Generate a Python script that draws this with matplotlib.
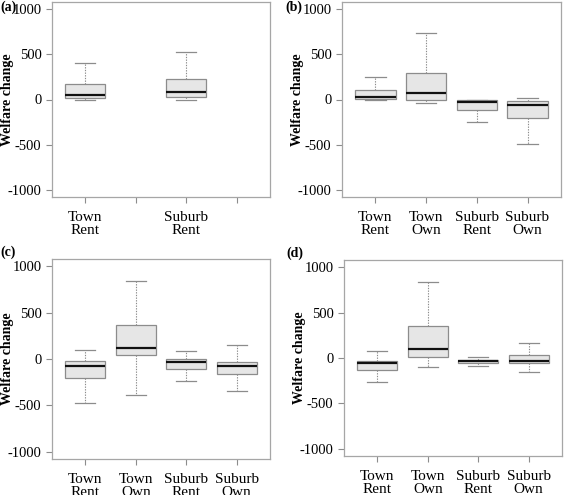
import matplotlib
matplotlib.use("Agg")
import matplotlib.pyplot as plt

plt.rcParams['font.family'] = ['Liberation Serif', 'DejaVu Serif']

categories = ["Town\nRent", "Town\nOwn", "Suburb\nRent", "Suburb\nOwn"]

# (a) only the rent groups are shown (positions 1 and 3)
a_pos = [1, 3]
a_lo = [0, 0]
a_q1 = [18, 26]
a_med = [55, 85]
a_q3 = [176, 224]
a_hi = [400, 522]

# (b)
b_lo = [0, -40, -250, -489]
b_q1 = [7, -4, -118, -206]
b_med = [33, 70, -33, -66]
b_q3 = [107, 298, -7, -15]
b_hi = [246, 735, -2, 15]

# (c)
c_lo = [-480, -384, -240, -341]
c_q1 = [-201, 39, -108, -158]
c_med = [-72, 118, -32, -75]
c_q3 = [-18, 366, -4, -29]
c_hi = [100, 842, 90, 147]

# (d)
d_lo = [-267, -99, -88, -158]
d_q1 = [-136, 11, -51, -59]
d_med = [-59, 95, -33, -33]
d_q3 = [-33, 348, -18, 33]
d_hi = [77, 835, 11, 165]

W, H = 568, 495
fig = plt.figure(figsize=(W / 100, H / 100), dpi=100)


def box_axes(left, right, top, bottom):
    return fig.add_axes([left / W, 1 - bottom / H, (right - left) / W, (bottom - top) / H])


def draw(ax, pos, lo, q1, med, q3, hi, labels_at):
    stats = []
    for i in range(len(pos)):
        stats.append(dict(whislo=lo[i], q1=q1[i], med=med[i], q3=q3[i], whishi=hi[i], fliers=[]))
    ax.bxp(stats, positions=pos, widths=0.8, patch_artist=True, showfliers=False,
           boxprops=dict(facecolor="#e6e6e6", edgecolor="#8c8c8c", linewidth=0.9),
           medianprops=dict(color="#111111", linewidth=1.6),
           whiskerprops=dict(color="#8c8c8c", linewidth=0.8, linestyle=(0, (1.2, 1.2))),
           capprops=dict(color="#8c8c8c", linewidth=0.9), capwidths=0.4)
    ax.set_xlim(0.34, 4.66)
    ax.set_ylim(-1080, 1080)
    ax.set_yticks([-1000, -500, 0, 500, 1000])
    ax.set_yticklabels(["-1000", "-500", "0", "500", "1000"], fontsize=10.5)
    ax.set_xticks([1, 2, 3, 4])
    ax.set_xticklabels([categories[i] if (i + 1) in labels_at else "" for i in range(4)],
                       fontsize=11, linespacing=1.0)
    ax.tick_params(axis="both", colors="#8c8c8c", labelcolor="black", length=4, width=0.8)
    ax.tick_params(axis="x", pad=6)
    for s in ax.spines.values():
        s.set_color("#a6a6a6")
        s.set_linewidth(0.9)
    ax.text(-0.205, 0.5, "Welfare change", transform=ax.transAxes, rotation=90,
            fontsize=10, fontweight="bold", ha="center", va="center")


def tag(text, x, y, va):
    fig.text(x / W, 1 - y / H, text, fontsize=10, fontweight="bold", ha="left", va=va)


ax_a = box_axes(52, 270, 2, 197)
draw(ax_a, a_pos, a_lo, a_q1, a_med, a_q3, a_hi, [1, 3])

ax_b = box_axes(342, 561, 2, 197)
draw(ax_b, [1, 2, 3, 4], b_lo, b_q1, b_med, b_q3, b_hi, [1, 2, 3, 4])

ax_c = box_axes(52, 270, 259, 459)
draw(ax_c, [1, 2, 3, 4], c_lo, c_q1, c_med, c_q3, c_hi, [1, 2, 3, 4])

ax_d = box_axes(344, 562, 260, 456)
draw(ax_d, [1, 2, 3, 4], d_lo, d_q1, d_med, d_q3, d_hi, [1, 2, 3, 4])

tag("(a)", 0, 1, "top")
tag("(b)", 285, 1, "top")
tag("(c)", 0, 259, "bottom")
tag("(d)", 286, 247, "top")

fig.savefig("out.png", dpi=100)
